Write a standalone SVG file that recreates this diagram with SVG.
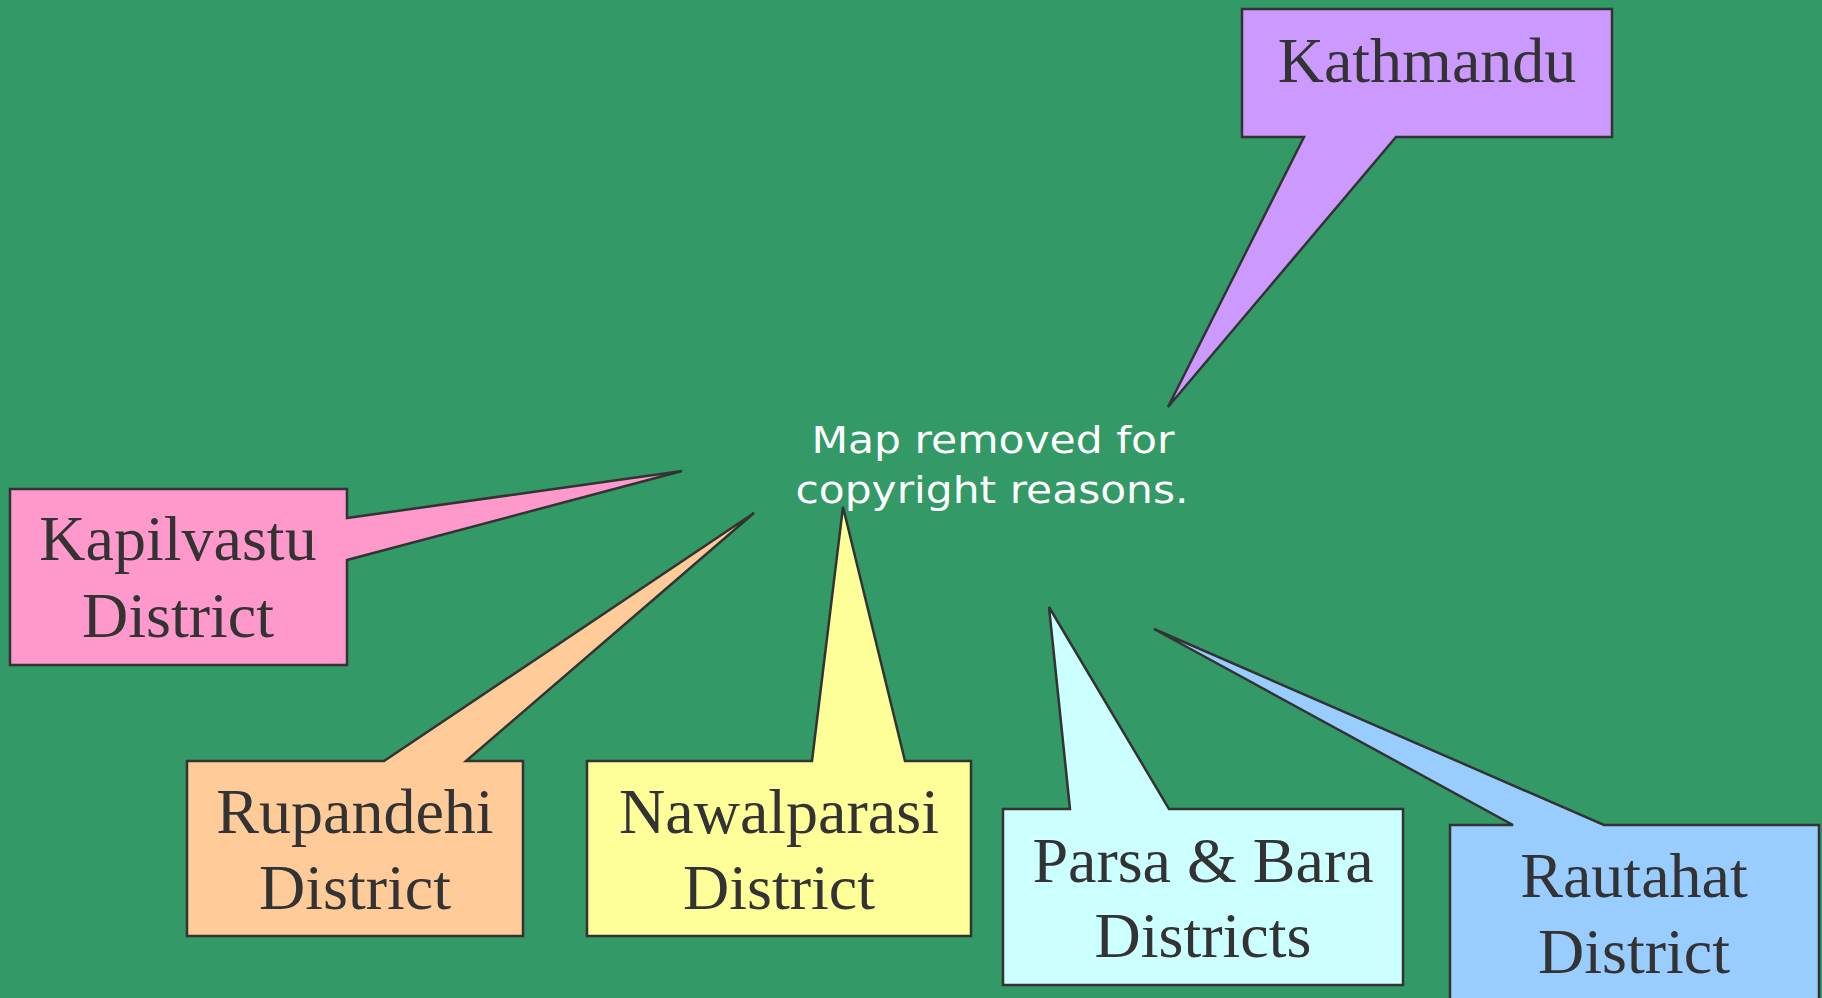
<svg xmlns="http://www.w3.org/2000/svg" width="1822" height="998" viewBox="0 0 1822 998">
<style>
.c{stroke:#333333;stroke-width:2.5;stroke-linejoin:miter}
.t{font-family:"Liberation Serif","Times New Roman",serif;font-size:64px;fill:#333333;text-anchor:middle}
.m{font-family:"DejaVu Sans",Verdana,sans-serif;font-size:38px;fill:#ffffff;text-anchor:middle}
</style>
<rect width="1822" height="998" fill="#339966"/>
<g id="map-note">
<text class="m" x="993" y="453" textLength="363" lengthAdjust="spacingAndGlyphs">Map removed for</text>
<text class="m" x="992" y="503" textLength="393" lengthAdjust="spacingAndGlyphs">copyright reasons.</text>
</g>
<g id="kathmandu">
<path class="c" fill="#CC99FF" d="M1242,9 H1612 V137 H1396 L1168,407 L1304,137 H1242 Z"/>
<text class="t" x="1427" y="82">Kathmandu</text>
</g>
<g id="kapilvastu">
<path class="c" fill="#FF99CC" d="M10,489 H347 V518 L682,471 L347,560 V665 H10 Z"/>
<text class="t" x="178" y="560">Kapilvastu</text>
<text class="t" x="178" y="637">District</text>
</g>
<g id="rupandehi">
<path class="c" fill="#FFCC99" d="M187,761 H384 L754,513 L466,761 H523 V936 H187 Z"/>
<text class="t" x="355" y="833">Rupandehi</text>
<text class="t" x="355" y="909">District</text>
</g>
<g id="nawalparasi">
<path class="c" fill="#FFFF99" d="M587,761 H812 L843,507 L905,761 H971 V936 H587 Z"/>
<text class="t" x="779" y="833">Nawalparasi</text>
<text class="t" x="779" y="909">District</text>
</g>
<g id="parsa-bara">
<path class="c" fill="#CCFFFF" d="M1003,809 H1070 L1049,607 L1169,809 H1403 V985 H1003 Z"/>
<text class="t" x="1203" y="882">Parsa &amp; Bara</text>
<text class="t" x="1203" y="957">Districts</text>
</g>
<g id="rautahat">
<path class="c" fill="#99CCFF" d="M1450,825 H1513 L1154,629 L1604,825 H1819 V1010 H1450 Z"/>
<text class="t" x="1634" y="897">Rautahat</text>
<text class="t" x="1634" y="973">District</text>
</g>
</svg>
